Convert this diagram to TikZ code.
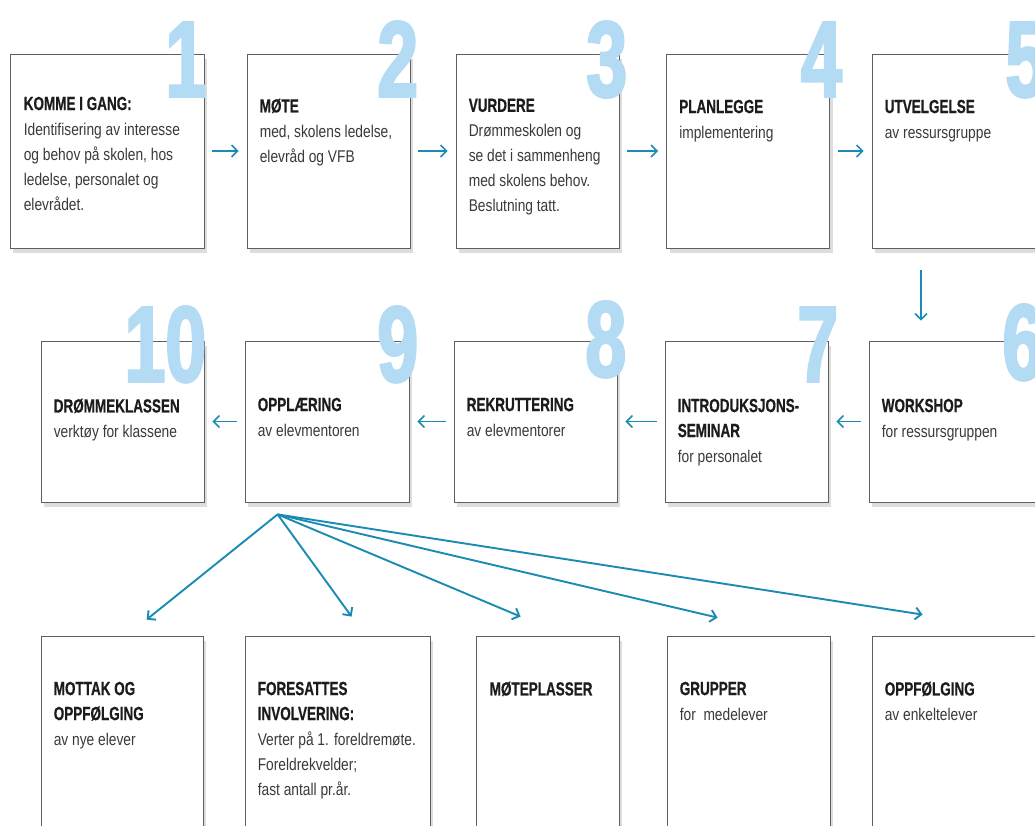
\documentclass[tikz,border=0pt]{standalone}
\usepackage{fontspec}
\setmainfont{Liberation Sans}
\newfontfamily\bdfont{Liberation Sans}[FakeStretch=0.81]
\newfontfamily\hdfont{Liberation Sans}[FakeStretch=0.71, FakeBold=0.6]
\newfontfamily\nmfont{Liberation Sans}[FakeStretch=0.68, FakeBold=2.2]
\usepackage{xcolor}
\usepackage{tikz}
\usetikzlibrary{arrows.meta}
\usetikzlibrary{shadows}

\definecolor{flowblue}{RGB}{27,139,180}
\definecolor{numblue}{RGB}{180,219,244}
\definecolor{boxline}{RGB}{95,95,95}
\definecolor{bodygray}{RGB}{58,58,58}
\definecolor{titleblack}{RGB}{28,28,28}

\newcommand{\ttl}[1]{{\hdfont\bfseries\fontsize{19}{25}\selectfont\color{titleblack}#1}}

\begin{document}
\begin{tikzpicture}[x=1pt,y=-1pt,
    stepbox/.style={draw=boxline, line width=0.8pt, fill=white, inner sep=0pt,
        drop shadow={shadow xshift=3pt, shadow yshift=-5pt, opacity=0.22, fill=black!60}},
    steptext/.style={anchor=north west, inner sep=0pt, align=left, text=bodygray,
        font=\bdfont\fontsize{17}{25}\selectfont},
    bignum/.style={anchor=base east, inner sep=0pt, text=numblue,
        font=\nmfont\bfseries\fontsize{108}{108}\selectfont},
    flow/.style={->, draw=flowblue, line width=1.5pt, shorten <=8pt, shorten >=8pt},
    fan/.style={->, draw=flowblue, line width=1.9pt},
    >={Straight Barb[length=6pt,width=12pt]}]
    \useasboundingbox (0,0) rectangle (1035,826);
    \clip (0,0) rectangle (1035,826);
    \fill [white] (0,0) rectangle (1035,826);

    % boxes
    \node [stepbox, minimum width=194pt, minimum height=194pt] (s1) at (107,151) {};
    \node [stepbox, minimum width=163pt, minimum height=194pt] (s2) at (328.5,151) {};
    \node [stepbox, minimum width=163pt, minimum height=194pt] (s3) at (537.5,151) {};
    \node [stepbox, minimum width=163pt, minimum height=194pt] (s4) at (748,151) {};
    \node [stepbox, minimum width=166pt, minimum height=194pt] (s5) at (955,151) {};
    \node [stepbox, minimum width=166pt, minimum height=161pt] (s6) at (952,421.5) {};
    \node [stepbox, minimum width=163pt, minimum height=161pt] (s7) at (746.5,421.5) {};
    \node [stepbox, minimum width=163pt, minimum height=161pt] (s8) at (535.5,421.5) {};
    \node [stepbox, minimum width=164pt, minimum height=161pt] (s9) at (327,421.5) {};
    \node [stepbox, minimum width=163pt, minimum height=161pt] (s10) at (122.5,421.5) {};
    \node [stepbox, minimum width=162pt, minimum height=264pt] (a1) at (122,768) {};
    \node [stepbox, minimum width=185pt, minimum height=264pt] (a2) at (337.5,768) {};
    \node [stepbox, minimum width=143pt, minimum height=264pt] (a3) at (547.5,768) {};
    \node [stepbox, minimum width=163pt, minimum height=264pt] (a4) at (748.5,768) {};
    \node [stepbox, minimum width=166pt, minimum height=264pt] (a5) at (955,768) {};

    % numbers
    \node [bignum] (n1) at ([xshift=2pt,yshift=-43pt]s1.north east) {1};
    \node [bignum] (n2) at ([xshift=8pt,yshift=-43pt]s2.north east) {2};
    \node [bignum] (n3) at ([xshift=8pt,yshift=-43pt]s3.north east) {3};
    \node [bignum] (n4) at ([xshift=12pt,yshift=-43pt]s4.north east) {4};
    \node [bignum] (n5) at ([xshift=8pt,yshift=-43pt]s5.north east) {5};
    \node [bignum] (n6) at ([xshift=8pt,yshift=-39pt]s6.north east) {6};
    \node [bignum] (n7) at ([xshift=10pt,yshift=-41pt]s7.north east) {7};
    \node [bignum] (n8) at ([xshift=9pt,yshift=-36pt]s8.north east) {8};
    \node [bignum] (n9) at ([xshift=9pt,yshift=-41pt]s9.north east) {9};
    \node [bignum] (n10) at ([xshift=2pt,yshift=-41pt]s10.north east) {10};

    % texts
    \node [steptext] (t1) at ([xshift=14pt,yshift=-43pt]s1.north west)
        {\ttl{KOMME I GANG:}\\Identifisering av interesse\\og behov på skolen, hos\\ledelse, personalet og\\elevrådet.};
    \node [steptext] (t2) at ([xshift=13pt,yshift=-45pt]s2.north west)
        {\ttl{MØTE}\\med, skolens ledelse,\\elevråd og VFB};
    \node [steptext] (t3) at ([xshift=13pt,yshift=-45pt]s3.north west)
        {\ttl{VURDERE}\\Drømmeskolen og\\se det i sammenheng\\med skolens behov.\\Beslutning tatt.};
    \node [steptext] (t4) at ([xshift=13pt,yshift=-46pt]s4.north west)
        {\ttl{PLANLEGGE}\\implementering};
    \node [steptext] (t5) at ([xshift=13pt,yshift=-46pt]s5.north west)
        {\ttl{UTVELGELSE}\\av ressursgruppe};
    \node [steptext] (t6) at ([xshift=13pt,yshift=-58pt]s6.north west)
        {\ttl{WORKSHOP}\\for ressursgruppen};
    \node [steptext] (t7) at ([xshift=13pt,yshift=-58pt]s7.north west)
        {\ttl{INTRODUKSJONS-}\\\ttl{SEMINAR}\\for personalet};
    \node [steptext] (t8) at ([xshift=13pt,yshift=-57pt]s8.north west)
        {\ttl{REKRUTTERING}\\av elevmentorer};
    \node [steptext] (t9) at ([xshift=13pt,yshift=-57pt]s9.north west)
        {\ttl{OPPLÆRING}\\av elevmentoren};
    \node [steptext] (t10) at ([xshift=13pt,yshift=-58pt]s10.north west)
        {\ttl{DRØMMEKLASSEN}\\verktøy for klassene};
    \node [steptext] (u1) at ([xshift=13pt,yshift=-46pt]a1.north west)
        {\ttl{MOTTAK OG}\\\ttl{OPPFØLGING}\\av nye elever};
    \node [steptext] (u2) at ([xshift=13pt,yshift=-46pt]a2.north west)
        {\ttl{FORESATTES}\\\ttl{INVOLVERING:}\\Verter på 1. foreldremøte.\\Foreldrekvelder;\\fast antall pr.år.};
    \node [steptext] (u3) at ([xshift=14pt,yshift=-46pt]a3.north west)
        {\ttl{MØTEPLASSER}};
    \node [steptext] (u4) at ([xshift=13pt,yshift=-46pt]a4.north west)
        {\ttl{GRUPPER}\\for\ \ medelever};
    \node [steptext] (u5) at ([xshift=13pt,yshift=-46pt]a5.north west)
        {\ttl{OPPFØLGING}\\av enkeltelever};

    % step arrows
    \draw [flow] (s1) -- (s2);
    \draw [flow] (s2) -- (s3);
    \draw [flow] (s3) -- (s4);
    \draw [flow] (s4) -- (s5);
    \draw [flow, shorten <=22pt, shorten >=20pt] ([xshift=-34pt]s5.south) -- ([xshift=-34pt]s5.south |- s6.north);
    \draw [flow] (s6) -- (s7);
    \draw [flow] (s7) -- (s8);
    \draw [flow] (s8) -- (s9);
    \draw [flow] (s9) -- (s10);

    % fan from OPPLAERING
    \coordinate (hub) at ([xshift=33pt,yshift=-12pt]s9.south west);
    \coordinate (e1) at ([xshift=106pt,yshift=16pt]a1.north west);
    \coordinate (e2) at ([xshift=107pt,yshift=19pt]a2.north west);
    \coordinate (e3) at ([xshift=45pt,yshift=19pt]a3.north west);
    \coordinate (e4) at ([xshift=51pt,yshift=18pt]a4.north west);
    \coordinate (e5) at ([xshift=51pt,yshift=21pt]a5.north west);
    \draw [fan] (hub) -- (e1);
    \draw [fan] (hub) -- (e2);
    \draw [fan] (hub) -- (e3);
    \draw [fan] (hub) -- (e4);
    \draw [fan] (hub) -- (e5);
\end{tikzpicture}
\end{document}
